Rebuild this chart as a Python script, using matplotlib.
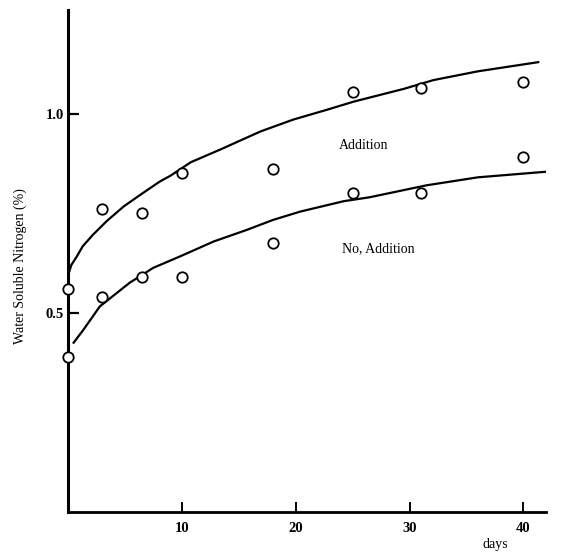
import matplotlib.pyplot as plt

# measured points (days, water soluble N %)
days = [0, 3, 6.5, 10, 18, 25, 31, 40]
addition = [0.56, 0.76, 0.75, 0.85, 0.86, 1.055, 1.063, 1.078]
no_addition = [0.39, 0.54, 0.59, 0.59, 0.675, 0.80, 0.80, 0.89]

# hand-drawn curves
curve_add_x = [0.0, 0.3, 0.75, 1.3, 2.2, 3.4, 4.9, 6.4, 8.1, 9.0, 10.8, 13.4, 16.9,
               19.8, 22.8, 25.1, 29.5, 32.1, 36.0, 41.3]
curve_add_y = [0.593, 0.62, 0.64, 0.667, 0.696, 0.73, 0.767, 0.797, 0.83, 0.844, 0.878,
               0.91, 0.955, 0.985, 1.01, 1.03, 1.062, 1.084, 1.106, 1.129]
curve_no_x = [0.5, 1.35, 2.8, 4.3, 5.4, 7.5, 9.8, 12.8, 15.7, 18.0, 20.4, 24.2, 26.5,
              31.5, 36.0, 42.4]
curve_no_y = [0.425, 0.457, 0.516, 0.55, 0.575, 0.613, 0.641, 0.679, 0.708, 0.733,
              0.754, 0.78, 0.79, 0.82, 0.84, 0.855]

yticks = [0.5, 1.0]
ytick_labels = ['0.5', '1.0']
xticks = [10, 20, 30, 40]

plt.rcParams['font.family'] = ['Liberation Serif', 'DejaVu Serif']

fig = plt.figure(figsize=(5.66, 5.53), dpi=100)
ax = fig.add_axes([0.120, 0.074, 0.845, 0.908])

ax.plot(curve_add_x, curve_add_y, color='black', linewidth=1.6, zorder=2)
ax.plot(curve_no_x, curve_no_y, color='black', linewidth=1.6, zorder=2)

ax.plot(days, addition, linestyle='none', marker='o', markersize=7.5,
        markerfacecolor='white', markeredgecolor='black', markeredgewidth=1.3,
        zorder=3, clip_on=False)
ax.plot(days, no_addition, linestyle='none', marker='o', markersize=7.5,
        markerfacecolor='white', markeredgecolor='black', markeredgewidth=1.3,
        zorder=3, clip_on=False)

ax.text(26, 0.92, 'Addition', ha='center', va='center', fontsize=10)
ax.text(27.3, 0.66, 'No, Addition', ha='center', va='center', fontsize=10)

ax.set_xlim(0, 42)
ax.set_ylim(0, 1.26)

ax.spines['top'].set_visible(False)
ax.spines['right'].set_visible(False)
ax.spines['left'].set_linewidth(2.2)
ax.spines['bottom'].set_linewidth(2.0)

ax.set_yticks(yticks)
ax.set_yticklabels(ytick_labels, fontsize=10.5, fontweight='bold')
ax.set_xticks(xticks)
ax.set_xticklabels([str(t) for t in xticks], fontsize=10.5, fontweight='bold')
ax.tick_params(axis='y', direction='in', length=8, width=1.6, pad=3)
ax.tick_params(axis='x', direction='in', length=7, width=1.4, pad=7)

ax.set_ylabel('Water Soluble Nitrogen (%)', fontsize=10)
ax.yaxis.set_label_coords(-0.085, 0.49)
ax.text(37.5, -0.082, 'days', ha='center', va='center', fontsize=10, clip_on=False)

fig.savefig('out.png', dpi=100, facecolor='white')
